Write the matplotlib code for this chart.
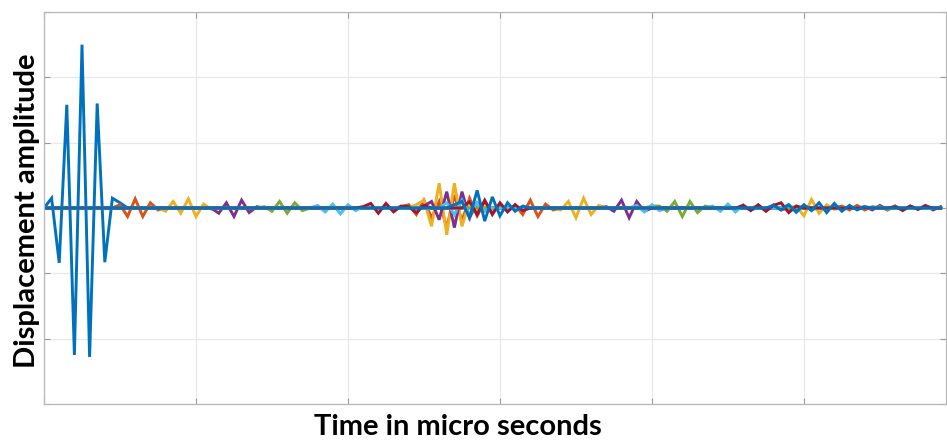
import numpy as np
import matplotlib
matplotlib.use("Agg")
import matplotlib.pyplot as plt

# ---- data (sample index -> displacement) ----
n_samples = 119
x_grid_step = 20
y_ticks = [-3, -2, -1, 0, 1, 2, 3]

blue_pulse_segments = [
    (0, [0, 0.15, -0.84, 1.58, -2.25, 2.5, -2.28, 1.6, -0.83, 0.15, 0.08, 0.0]),
]
blue_segments = [
    (54, [0.05, 0.1, -0.15, 0.27, -0.2, 0.17, -0.12, 0.08, -0.05, 0.03]),
    (96, [0.04, -0.03, 0.05, -0.06, 0.05, -0.04, 0.08, -0.07, 0.07, -0.05, 0.04, -0.03, 0.02]),
]
red_segments = [
    (10, [0.05, -0.13, 0.14, -0.13, 0.08, -0.03, 0.0]),
    (47, [0.02, 0.05, -0.1, 0.12, -0.15, 0.1, -0.3, 0.2, -0.2, 0.15, -0.12, 0.1,
          -0.08, 0.06, -0.05, 0.05, -0.1, 0.12, -0.13, 0.06, -0.03]),
    (94, [0.03, -0.04, 0.05, -0.03]),
    (105, [0.03, -0.03, 0.04, -0.03, 0.02]),
]
yellow_segments = [
    (16, [-0.05, 0.1, -0.08, 0.14, -0.13, 0.06, -0.02]),
    (49, [0.05, 0.12, -0.28, 0.38, -0.41, 0.38, -0.28, 0.1, -0.05]),
    (68, [-0.03, 0.1, -0.15, 0.15, -0.1, 0.04]),
    (99, [0.03, -0.12, 0.13, -0.08, 0.05, -0.02]),
]
purple_segments = [
    (23, [-0.08, 0.08, -0.13, 0.12, -0.07, 0.02]),
    (50, [0.03, 0.1, -0.18, 0.25, -0.3, 0.25, -0.15, 0.08, -0.03]),
    (74, [0.02, -0.05, 0.12, -0.15, 0.1, -0.05]),
    (108, [0.02, -0.03, 0.04, -0.03, 0.03, -0.04, 0.03, -0.02, 0.04, -0.03, 0.02]),
]
green_segments = [
    (29, [0.02, -0.05, 0.1, -0.08, 0.08, -0.04, 0.0]),
    (80, [0.03, 0.03, -0.05, 0.1, -0.13, 0.1, -0.07, 0.03]),
    (110, [0.02, -0.03, 0.03, -0.02]),
]
lightblue_segments = [
    (36, [0.04, -0.06, 0.06, -0.09, 0.05, -0.04, 0.02]),
    (53, [0.08, -0.1, 0.12, -0.1, 0.08, -0.05]),
    (78, [0.04, -0.06, 0.05, -0.04]),
    (88, [0.03, -0.05, 0.06, -0.06, 0.05, -0.03]),
    (98, [0.05, -0.07, 0.04, -0.03]),
]
darkred_segments = [
    (42, [0.02, 0.07, -0.08, 0.07, -0.06, 0.03, 0.02, -0.07, 0.04]),
    (56, [0.1, -0.1, 0.12, -0.1, 0.08, -0.06, 0.05, -0.04]),
    (92, [0.04, -0.04, 0.05, -0.05, 0.04, 0.08, -0.07, 0.03]),
    (112, [0.02, -0.03, 0.03, -0.02, 0.03]),
]

series = [
    (blue_pulse_segments, "#0072BD"),
    (red_segments, "#D95319"),
    (yellow_segments, "#EDB120"),
    (purple_segments, "#7E2F8E"),
    (green_segments, "#77AC30"),
    (lightblue_segments, "#4DBEEE"),
    (darkred_segments, "#A2142F"),
    (blue_segments, "#0072BD"),
]


def build(segments):
    y = np.zeros(n_samples)
    for start, vals in segments:
        y[start:start + len(vals)] = vals
    return y


x = np.arange(n_samples)

fig = plt.figure(figsize=(9.47, 4.43), dpi=100)
ax = fig.add_axes([44 / 947, 39 / 443, 902 / 947, 392 / 443])

for segs, col in series:
    ax.plot(x, build(segs), color=col, lw=2.1, solid_joinstyle="miter")

ax.set_xlim(0, 118.7)
ax.set_ylim(-3, 3)
ax.set_xticks(np.arange(0, 118.7, x_grid_step))
ax.set_yticks(y_ticks)
ax.set_xticklabels([])
ax.set_yticklabels([])
ax.tick_params(direction="in", length=4, width=0.8, color="#9a9a9a",
               top=True, right=True)
ax.grid(True, color="#e8e8e8", lw=0.9)
ax.set_axisbelow(True)
for sp in ax.spines.values():
    sp.set_color("#b8b8b8")
    sp.set_linewidth(0.9)

fig.text(0.483, 0.037, "Time in micro seconds", ha="center", va="center",
         fontsize=21, fontweight="bold", family="Lato")
fig.text(0.028, 0.524, "Displacement amplitude", ha="center", va="center",
         rotation=90, fontsize=21, fontweight="bold", family="Lato")

fig.savefig("out.png", dpi=100)
